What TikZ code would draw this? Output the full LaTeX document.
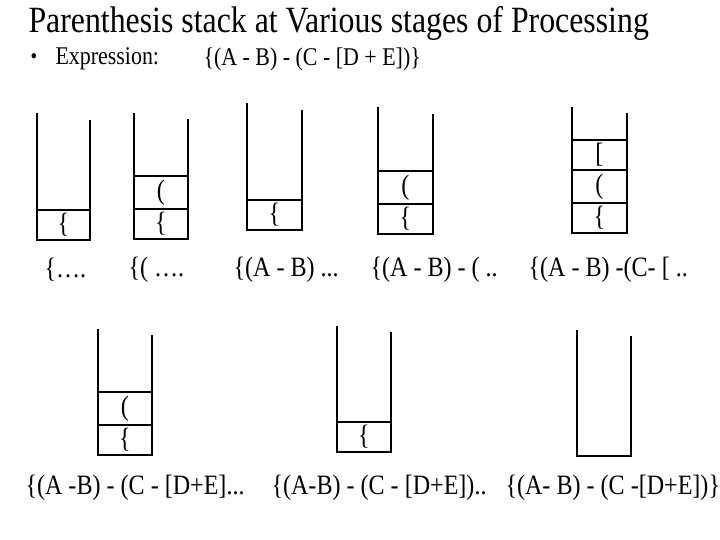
\documentclass[tikz,border=0pt]{standalone}
\usepackage{fontspec}
\setmainfont{Liberation Serif}
\usepackage{tikz}
\usetikzlibrary{positioning}

\begin{document}
\begin{tikzpicture}[x=1pt,y=-1pt,line width=1.2pt,
  lbl/.style={font=\fontsize{28}{32}\selectfont,xscale=0.86,inner sep=0pt,anchor=west},
  cell/.style={font=\fontsize{28}{32}\selectfont,xscale=0.86,inner sep=0pt}]
\useasboundingbox (0,0) rectangle (720,540);
\node[lbl,font=\fontsize{37}{40}\selectfont] (title) at (28,23) {Parenthesis stack at Various stages of Processing};
\node[lbl,font=\fontsize{22}{26}\selectfont] (bullet) at (30,59) {•};
\node[lbl,font=\fontsize{25.5}{30}\selectfont] (exprlbl) at (55,59) {Expression:};
\node[lbl,font=\fontsize{25.5}{30}\selectfont] (expr) at (203,59) {\{(A - B) - (C - [D + E])\}};
% first row
\draw (37,113) -- (37,240) -- (90,240) -- (90,120);
\draw (37,210) -- (90,210);
\node[cell] (c1a) at (63.5,225) {\{};
\node[lbl] (l1) at (44,270) {\{….};
\draw (134,113) -- (134,239) -- (188,239) -- (188,119);
\draw (134,176) -- (188,176) (134,209) -- (188,209);
\node[cell] (c2a) at (161,224) {\{};
\node[cell] (c2b) at (161,192.5) {(};
\node[lbl] (l2) at (128,270) {\{( ….};
\draw (247,103) -- (247,230) -- (302,230) -- (302,110);
\draw (247,200) -- (302,200);
\node[cell] (c3a) at (274.5,215) {\{};
\node[lbl] (l3) at (233,270) {\{(A - B) ...};
\draw (378,107) -- (378,234) -- (433,234) -- (433,114);
\draw (378,171) -- (433,171) (378,204) -- (433,204);
\node[cell] (c4a) at (405.5,219) {\{};
\node[cell] (c4b) at (405.5,187.5) {(};
\node[lbl] (l4) at (370,270) {\{(A - B) - ( ..};
\draw (572,107) -- (572,233) -- (627,233) -- (627,113);
\draw (572,140) -- (627,140) (572,170) -- (627,170) (572,203) -- (627,203);
\node[cell] (c5a) at (599.5,218) {\{};
\node[cell] (c5b) at (599.5,186.5) {(};
\node[cell] (c5c) at (599.5,155) {[};
\node[lbl] (l5) at (528,270) {\{(A - B) -(C- [ ..};
% second row
\draw (98,329) -- (98,455) -- (152,455) -- (152,335);
\draw (98,392) -- (152,392) (98,425) -- (152,425);
\node[cell] (c6a) at (125,440) {\{};
\node[cell] (c6b) at (125,408.5) {(};
\node[lbl] (l6) at (25,488) {\{(A -B) - (C - [D+E]...};
\draw (337,326) -- (337,452) -- (391,452) -- (391,332);
\draw (337,422) -- (391,422);
\node[cell] (c7a) at (364,437) {\{};
\node[lbl] (l7) at (271,488) {\{(A-B) - (C - [D+E])..};
\draw (577,330) -- (577,456) -- (631,456) -- (631,336);
\node[lbl] (l8) at (505,488) {\{(A- B) - (C -[D+E])\}};
\end{tikzpicture}
\end{document}
